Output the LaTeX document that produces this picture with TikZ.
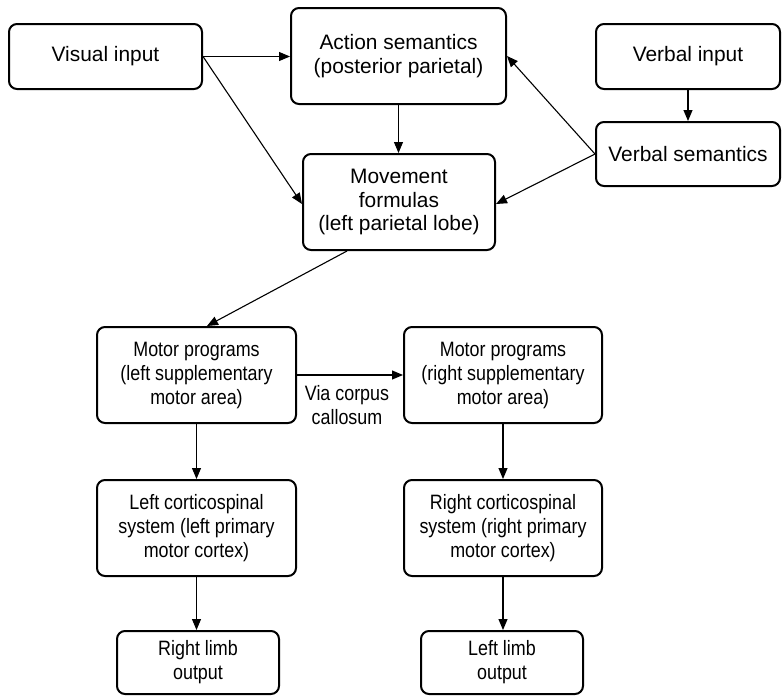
\documentclass[tikz,border=0pt]{standalone}
\usepackage{fontspec}
\setmainfont{Liberation Sans}
\newfontfamily\narrowsans[FakeStretch=0.86]{Liberation Sans}
\usetikzlibrary{arrows.meta}
\begin{document}
\begin{tikzpicture}[x=1pt,y=-1pt,
  box/.style={draw=black,line width=2pt,rounded corners=8pt,inner sep=0pt,
    align=center,font=\fontsize{20.9}{23.5}\selectfont},
  small/.style={font=\narrowsans\fontsize{20.8}{24}\selectfont},
  link/.style={line width=1.1pt,-{Triangle[length=11pt,width=9pt]}},
  lbl/.style={inner sep=0pt,align=center,font=\narrowsans\fontsize{20.8}{24}\selectfont}]
\useasboundingbox (0,0) rectangle (782,696);
% upper stage
\node[box,minimum width=193pt,minimum height=65pt] (vis) at (105.5,56.5) {Visual input};
\node[box,minimum width=215pt,minimum height=96pt] (act) at (398.5,56) {Action semantics\\(posterior parietal)};
\node[box,minimum width=192pt,minimum height=96pt] (mov) at (399,202) {Movement\\formulas\\(left parietal lobe)};
\node[box,minimum width=184pt,minimum height=65pt] (vin) at (688,56.5) {Verbal input};
\node[box,minimum width=184pt,minimum height=64pt] (vsem) at (688,154) {Verbal semantics};
% motor stage
\node[box,small,minimum width=199pt,minimum height=96pt] (mpl) at (196.5,375) {Motor programs\\(left supplementary\\motor area)};
\node[box,small,minimum width=198pt,minimum height=96pt] (mpr) at (503,375) {Motor programs\\(right supplementary\\motor area)};
\node[box,small,minimum width=199pt,minimum height=96pt] (csl) at (196.5,528) {Left corticospinal\\system (left primary\\motor cortex)};
\node[box,small,minimum width=198pt,minimum height=96pt] (csr) at (503,528) {Right corticospinal\\system (right primary\\motor cortex)};
\node[box,small,minimum width=162pt,minimum height=63pt] (rlo) at (198,662.5) {Right limb\\output};
\node[box,small,minimum width=162pt,minimum height=63pt] (llo) at (502,662.5) {Left limb\\output};
\node[lbl] (cc) at (347,405) {Via corpus\\callosum};
% connectors
\draw[link] (vis.east) -- (vis.east -| act.west);
\draw[link] (vis.east) -- ([yshift=-2pt]mov.west);
\draw[link] (act.south) -- (act.south |- mov.north);
\draw[link] (vin.south) -- (vsem.north);
\draw[link] (vsem.west) -- (act.east);
\draw[link] (vsem.west) -- ([yshift=-2pt]mov.east);
\draw[link] ([xshift=45pt]mov.south west) -- ([xshift=10.5pt]mpl.north);
\draw[link] (mpl.east) -- (mpr.west);
\draw[link] (mpl.south) -- (csl.north);
\draw[link] (mpr.south) -- (csr.north);
\draw[link] (csl.south) -- (csl.south |- rlo.north);
\draw[link] (csr.south) -- (csr.south |- llo.north);
\end{tikzpicture}
\end{document}
